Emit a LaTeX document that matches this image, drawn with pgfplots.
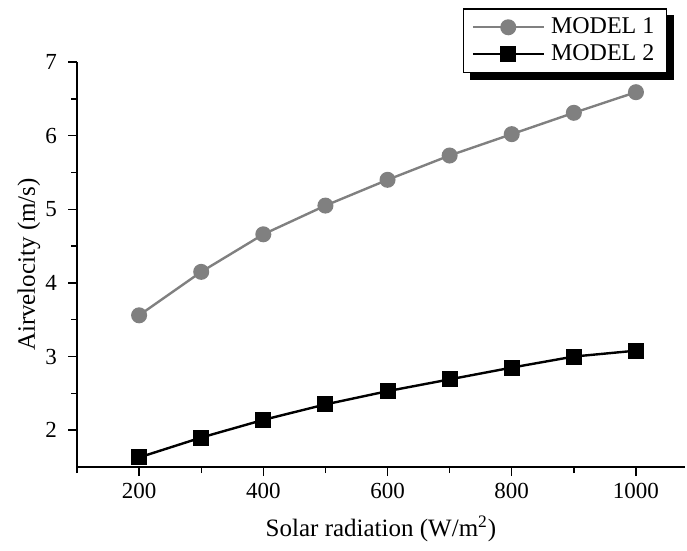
\documentclass[border=0pt]{standalone}
\usepackage{fontspec}
\setmainfont{Liberation Serif}
\usepackage{pgfplots}
\pgfplotsset{compat=1.18}
\usetikzlibrary{backgrounds}

\definecolor{mgray}{RGB}{128,128,128}

\begin{document}
\begin{tikzpicture}
\begin{axis}[
    name=ax,
    scale only axis,
    width=304pt, height=202.5pt,
    xmin=100, xmax=1079,
    ymin=1.5, ymax=7,
    axis lines*=left,
    axis line style={line width=0.8pt},
    tick align=outside,
    tick style={black, line width=0.7pt},
    major tick length=4.5pt,
    minor tick length=3pt,
    xtick={200,400,600,800,1000},
    minor xtick={100,300,500,700,900},
    ytick={2,3,4,5,6,7},
    minor ytick={2.5,3.5,4.5,5.5,6.5},
    /pgf/number format/assume math mode=true,
    /pgf/number format/1000 sep={},
    ticklabel style={font=\fontsize{11.5}{13}\selectfont},
    yticklabel style={xshift=-2pt},
    xlabel={Solar radiation (W/m\textsuperscript{2})},
    ylabel={Airvelocity (m/s)},
    label style={font=\fontsize{12.5}{14}\selectfont},
    xlabel style={at={(axis description cs:0.5,0)}, anchor=center, yshift=-31pt},
    ylabel style={at={(axis description cs:0,0.5)}, anchor=center, yshift=24pt},
    clip=false,
    legend cell align=left,
    legend image code/.code={
        \draw[mark repeat=2, mark phase=2, #1]
            plot coordinates {(0cm,0cm) (0.62cm,0cm) (1.24cm,0cm)};
        \path (1.28cm,0cm);
    },
    legend style={
        name=leg,
        at={(0.635,1.133)}, anchor=north west,
        draw=black, line width=0.7pt, fill=white,
        font=\fontsize{12}{14}\selectfont,
        inner xsep=4pt, inner ysep=2.5pt,
        row sep=0pt,
    },
]
\addplot[mgray, line width=1.2pt, mark=*, mark size=3.4pt, mark options={fill=mgray, draw=mgray}]
coordinates {
    (200,3.56) (300,4.15) (400,4.66) (500,5.05) (600,5.40)
    (700,5.73) (800,6.02) (900,6.31) (1000,6.59)
};
\addlegendentry{MODEL 1}
\addplot[black, line width=1.2pt, mark=square*, mark size=3.4pt, mark options={fill=black}]
coordinates {
    (200,1.63) (300,1.90) (400,2.14) (500,2.35) (600,2.53)
    (700,2.69) (800,2.85) (900,3.00) (1000,3.08)
};
\addlegendentry{MODEL 2}
\coordinate (bl) at (rel axis cs:0,0);
\coordinate (tr) at (rel axis cs:1,1);
\end{axis}
\begin{pgfonlayer}{background}
\fill[black] ([shift={(3.3pt,-3.3pt)}]leg.south west) rectangle ([shift={(3.3pt,-3.3pt)}]leg.north east);
\end{pgfonlayer}
\pgfresetboundingbox
\path ([shift={(-38.5pt,-41.5pt)}]bl) rectangle ([shift={(1pt,31pt)}]tr);
\end{tikzpicture}
\end{document}
